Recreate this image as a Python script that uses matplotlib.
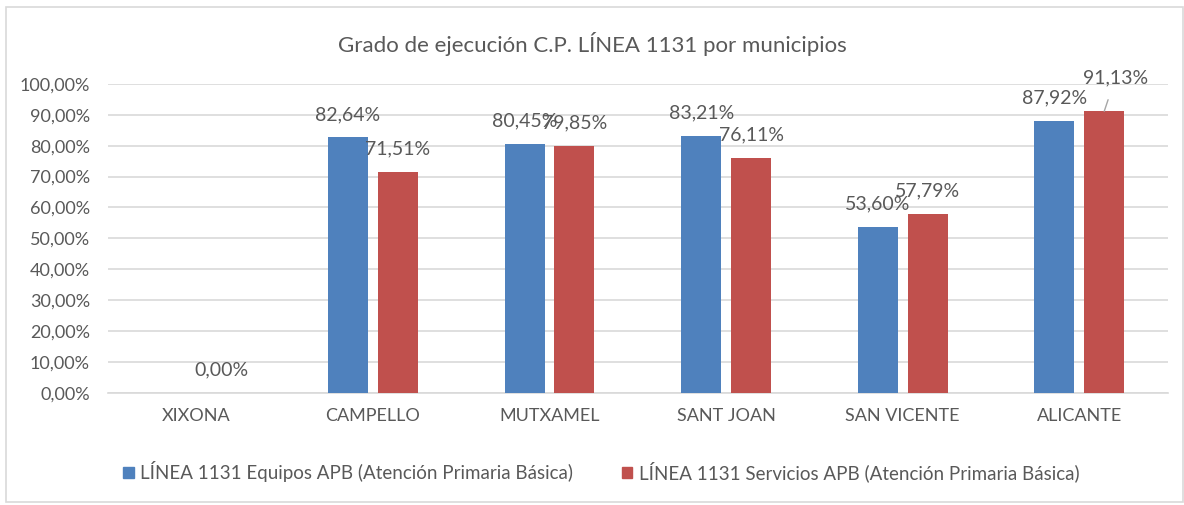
import numpy as np
import matplotlib
matplotlib.use("Agg")
import matplotlib.pyplot as plt
from matplotlib.patches import Rectangle, Patch

plt.rcParams['font.family'] = ['Lato', 'DejaVu Sans']

title = "Grado de ejecución C.P. LÍNEA 1131 por municipios"
categories = ["XIXONA", "CAMPELLO", "MUTXAMEL", "SANT JOAN", "SAN VICENTE", "ALICANTE"]
series_names = ["LÍNEA 1131 Equipos APB (Atención Primaria Básica)",
                "LÍNEA 1131 Servicios APB (Atención Primaria Básica)"]
equipos = [np.nan, 82.64, 80.45, 83.21, 53.60, 87.92]
servicios = [0.00, 71.51, 79.85, 76.11, 57.79, 91.13]
yticks = list(range(0, 101, 10))

blue = "#4F81BD"
red = "#C0504D"
txt = "#595959"
grid = "#D9D9D9"

fig = plt.figure(figsize=(11.84, 5.05), dpi=100)
ax = fig.add_axes([0.0912, 0.222, 0.895, 0.612])

x = np.arange(len(categories))
w = 0.226
off = 0.141
ax.bar(x - off, equipos, w, color=blue, zorder=3)
ax.bar(x + off, servicios, w, color=red, zorder=3)

def fmt(v):
    return f"{v:.2f}%".replace(".", ",")

lab_fs = 14
for i, v in enumerate(equipos):
    if not np.isnan(v):
        ax.annotate(fmt(v), (x[i] - off, v), xytext=(0, 16.5), textcoords="offset points",
                    ha="center", va="center", fontsize=lab_fs, color=txt, zorder=4)
for i, v in enumerate(servicios):
    if i == len(servicios) - 1:
        ax.annotate(fmt(v), (x[i] + off, v), xytext=(8, 24), textcoords="offset points",
                    ha="center", va="center", fontsize=lab_fs, color=txt, zorder=4,
                    arrowprops=dict(arrowstyle="-", color="#A6A6A6", lw=1,
                                    shrinkA=8, shrinkB=0))
    else:
        ax.annotate(fmt(v), (x[i] + off, v), xytext=(0, 16.5), textcoords="offset points",
                    ha="center", va="center", fontsize=lab_fs, color=txt, zorder=4)

ax.set_xlim(-0.5, len(categories) - 0.5)
ax.set_ylim(0, 100)
ax.set_yticks(yticks)
ax.set_yticklabels([f"{t:.2f}%".replace(".", ",") for t in yticks], fontsize=13, color=txt)
ax.set_xticks(x)
ax.set_xticklabels(categories, fontsize=13, color=txt)
ax.tick_params(axis="both", length=0)
ax.tick_params(axis="x", pad=11)
ax.tick_params(axis="y", pad=13)
ax.yaxis.grid(True, color=grid, lw=1.2, zorder=0)
for s in ["top", "right", "left"]:
    ax.spines[s].set_visible(False)
ax.spines["bottom"].set_color(grid)
ax.spines["bottom"].set_linewidth(1.2)

fig.text(0.5, 0.913, title, ha="center", va="center", fontsize=16, color=txt)

handles = [Patch(color=blue), Patch(color=red)]
fig.legend(handles, series_names, loc="center", bbox_to_anchor=(0.508, 0.066), ncol=2,
           frameon=False, fontsize=13.5, labelcolor=txt, handlelength=0.55, handleheight=0.55,
           handletextpad=0.35, columnspacing=2.6)

fig.add_artist(Rectangle((0.005, 0.005), 0.994, 0.982, transform=fig.transFigure,
                         fill=False, edgecolor=grid, lw=1.2))

fig.savefig("out.png", dpi=100)
